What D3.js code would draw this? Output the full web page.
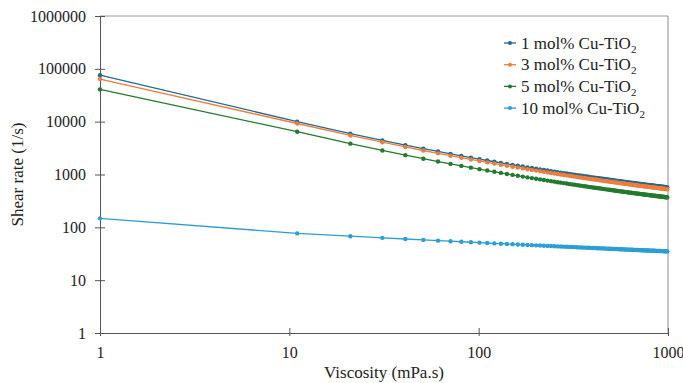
<!DOCTYPE html>
<html>
<head>
<meta charset="utf-8">
<script src="https://cdn.jsdelivr.net/npm/d3@7"></script>
<style>
  body { margin: 0; background: #fff; }
  text { font-family: "Liberation Serif", "Times New Roman", serif; fill: #222; }
</style>
</head>
<body>
<div id="chart"></div>
<script>
// viscosity (mPa.s) readings, shared by all four samples
const viscosity = [1, 11, 21, 31, 41, 51, 61, 71, 81, 91, 101, 111, 121, 131, 141, 151, 161, 171, 181, 191,
  201, 211, 221, 231, 241, 251, 261, 271, 281, 291, 301, 311, 321, 331, 341, 351, 361, 371, 381, 391,
  401, 411, 421, 431, 441, 451, 461, 471, 481, 491, 501, 511, 521, 531, 541, 551, 561, 571, 581, 591,
  601, 611, 621, 631, 641, 651, 661, 671, 681, 691, 701, 711, 721, 731, 741, 751, 761, 771, 781, 791,
  801, 811, 821, 831, 841, 851, 861, 871, 881, 891, 901, 911, 921, 931, 941, 951, 961, 971, 981, 991];

// shear rate (1/s)
const shear1 = [76000, 10000, 5940, 4420, 3600, 3085, 2727, 2460, 2254, 2089, 1954, 1840, 1744, 1660, 1587, 1522, 1465, 1413, 1367, 1324,
  1285, 1250, 1217, 1187, 1159, 1133, 1108, 1086, 1064, 1044, 1025, 1007, 990, 974, 958, 944, 930, 917, 904, 892,
  881, 870, 859, 849, 839, 829, 820, 811, 803, 794, 786, 779, 771, 764, 757, 750, 744, 737, 731, 725,
  719, 713, 708, 703, 697, 692, 687, 682, 678, 673, 669, 664, 660, 656, 651, 648, 643, 640, 636, 632,
  628, 625, 622, 618, 615, 611, 608, 605, 602, 599, 596, 593, 590, 587, 585, 582, 579, 576, 574, 571];

const shear3 = [64000, 9230, 5480, 4080, 3321, 2846, 2516, 2270, 2080, 1927, 1803, 1698, 1609, 1532, 1464, 1404, 1352, 1304, 1261, 1222,
  1186, 1153, 1123, 1095, 1069, 1045, 1022, 1002, 982, 963, 946, 929, 913, 899, 884, 871, 858, 846, 834, 823,
  813, 803, 793, 783, 774, 765, 757, 748, 741, 733, 725, 719, 711, 705, 698, 692, 686, 680, 674, 669,
  663, 658, 653, 649, 643, 638, 634, 629, 626, 621, 617, 613, 609, 605, 601, 598, 593, 590, 587, 583,
  579, 577, 574, 570, 567, 564, 561, 558, 555, 553, 550, 547, 544, 542, 540, 537, 534, 531, 530, 527];

const shear5 = [40800, 6460, 3835, 2854, 2325, 1992, 1761, 1588, 1455, 1349, 1262, 1188, 1126, 1072, 1025, 983, 946, 912, 883, 855,
  830, 807, 786, 766, 748, 732, 715, 701, 687, 674, 662, 650, 639, 629, 619, 610, 600, 592, 584, 576,
  569, 562, 555, 548, 542, 535, 529, 524, 518, 513, 508, 503, 498, 493, 489, 484, 480, 476, 472, 468,
  464, 460, 457, 454, 450, 447, 444, 440, 438, 435, 432, 429, 426, 424, 420, 418, 415, 413, 411, 408,
  406, 404, 402, 399, 397, 395, 393, 391, 389, 387, 385, 383, 381, 379, 378, 376, 374, 372, 371, 369];

const shear10 = [148, 76.7, 68.0, 63.3, 60.2, 57.8, 56.0, 54.6, 53.3, 52.2, 51.3, 50.5, 49.7, 49.0, 48.4, 47.9, 47.3, 46.9, 46.4, 46.0,
  45.6, 45.2, 44.9, 44.5, 44.2, 43.9, 43.6, 43.4, 43.1, 42.9, 42.6, 42.4, 42.2, 41.9, 41.7, 41.5, 41.3, 41.2, 41.0, 40.8,
  40.6, 40.5, 40.3, 40.2, 40.0, 39.9, 39.7, 39.6, 39.4, 39.3, 39.2, 39.1, 38.9, 38.8, 38.7, 38.6, 38.5, 38.4, 38.2, 38.1,
  38.0, 37.9, 37.9, 37.8, 37.7, 37.6, 37.5, 37.4, 37.3, 37.2, 37.1, 37.0, 36.9, 36.9, 36.8, 36.7, 36.6, 36.6, 36.5, 36.4,
  36.3, 36.3, 36.2, 36.1, 36.1, 36.0, 35.9, 35.9, 35.8, 35.7, 35.7, 35.6, 35.5, 35.5, 35.4, 35.4, 35.3, 35.2, 35.2, 35.1];

const seriesNames = ["1 mol% Cu-TiO", "3 mol% Cu-TiO", "5 mol% Cu-TiO", "10 mol% Cu-TiO"];
const seriesColors = ["#22698f", "#ee7d3b", "#227a2e", "#2b9fd4"];
const xTicks = [1, 10, 100, 1000];
const yTicks = [1, 10, 100, 1000, 10000, 100000, 1000000];

const W = 683, H = 383;
const margin = { top: 16, right: 15, bottom: 50, left: 100 };

const svg = d3.select('#chart').append('svg')
  .attr('width', W)
  .attr('height', H);

const x = d3.scaleLog()
  .domain([1, 1000])
  .range([margin.left, W - margin.right]);

const y = d3.scaleLog()
  .domain([1, 1000000])
  .range([H - margin.bottom, margin.top]);

// frame: top and right in light grey
svg.append('line')
  .attr('x1', x(1)).attr('x2', x(1000))
  .attr('y1', y(1000000)).attr('y2', y(1000000))
  .attr('stroke', '#9a9a9a');
svg.append('line')
  .attr('x1', x(1000)).attr('x2', x(1000))
  .attr('y1', y(1000000)).attr('y2', y(1))
  .attr('stroke', '#8a8a8a');

const yAxis = svg.append('g')
  .attr('transform', `translate(${x(1)},0)`)
  .call(d3.axisLeft(y).tickValues(yTicks).tickFormat(d3.format('d')).tickSizeInner(5).tickSizeOuter(0).tickPadding(9));
yAxis.selectAll('.tick line').attr('x2', 5).attr('x1', -5);

const xAxis = svg.append('g')
  .attr('transform', `translate(0,${y(1)})`)
  .call(d3.axisBottom(x).tickValues(xTicks).tickFormat(d3.format('d')).tickSizeInner(5).tickSizeOuter(0).tickPadding(9));
xAxis.selectAll('.tick line').attr('y1', -5).attr('y2', 3);

[yAxis, xAxis].forEach(a => {
  a.select('.domain').attr('stroke', '#555');
  a.selectAll('.tick line').attr('stroke', '#555');
  a.selectAll('.tick text')
    .attr('font-family', '"Liberation Serif", serif')
    .attr('font-size', 16)
    .attr('fill', '#222');
});

const seriesData = [shear1, shear3, shear5, shear10];

const line = d3.line()
  .x(d => x(d[0]))
  .y(d => y(d[1]));

seriesData.forEach((vals, i) => {
  const pts = viscosity.map((v, j) => [v, vals[j]]);
  const g = svg.append('g');
  g.append('path')
    .datum(pts)
    .attr('d', line)
    .attr('fill', 'none')
    .attr('stroke', seriesColors[i])
    .attr('stroke-width', 1.3);
  g.selectAll('circle')
    .data(pts)
    .enter()
    .append('circle')
    .attr('cx', d => x(d[0]))
    .attr('cy', d => y(d[1]))
    .attr('r', 2.2)
    .attr('fill', seriesColors[i]);
});

// legend
const legend = svg.append('g').attr('transform', 'translate(504,43)');
seriesNames.forEach((name, i) => {
  const row = legend.append('g').attr('transform', `translate(0,${i * 21.7})`);
  row.append('line')
    .attr('x1', 0).attr('x2', 12)
    .attr('stroke', seriesColors[i]).attr('stroke-width', 1.3);
  row.append('circle')
    .attr('cx', 6).attr('r', 2)
    .attr('fill', seriesColors[i]);
  const t = row.append('text')
    .attr('x', 17).attr('y', 5.5)
    .attr('font-size', 17);
  t.append('tspan').text(name);
  t.append('tspan').text('2').attr('font-size', 11).attr('dy', 4);
});

// axis titles
svg.append('text')
  .attr('x', (x(1) + x(1000)) / 2)
  .attr('y', 378)
  .attr('text-anchor', 'middle')
  .attr('font-size', 17)
  .text('Viscosity (mPa.s)');

svg.append('text')
  .attr('transform', `translate(23,${(y(1) + y(1000000)) / 2}) rotate(-90)`)
  .attr('text-anchor', 'middle')
  .attr('font-size', 17)
  .text('Shear rate (1/s)');
</script>
</body>
</html>
